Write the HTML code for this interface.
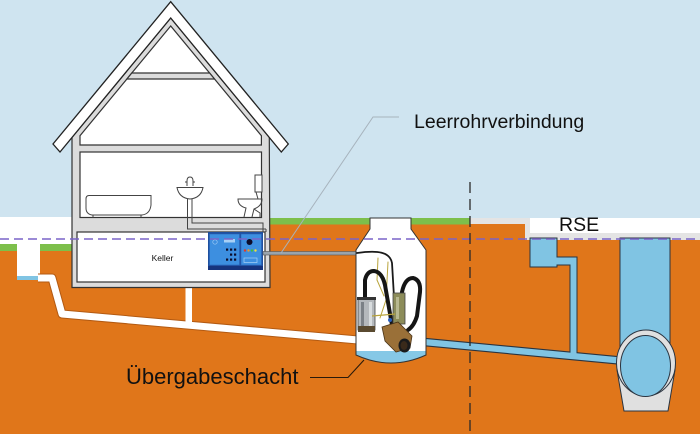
<!DOCTYPE html>
<html><head><meta charset="utf-8"><style>html,body{margin:0;padding:0;background:#cfe4f0}svg{display:block}</style></head>
<body>
<svg width="700" height="434" viewBox="0 0 700 434" xmlns="http://www.w3.org/2000/svg">
<rect width="700" height="434" fill="#cfe4f0"/>
<!-- ground -->
<rect x="0" y="217" width="72" height="27" fill="#ffffff"/>
<rect x="0" y="244" width="72" height="7" fill="#7dbf4b"/>
<rect x="0" y="251" width="72" height="183" fill="#e0761a"/>
<rect x="270" y="218" width="200" height="6.5" fill="#7dbf4b"/>
<rect x="270" y="224.5" width="200" height="210" fill="#e0761a"/>
<rect x="470" y="218" width="230" height="22" fill="#e4e4e4"/>
<rect x="530" y="218" width="170" height="15" fill="#ffffff"/>
<rect x="470" y="224" width="55" height="210" fill="#e0761a"/>
<rect x="525" y="240" width="175" height="194" fill="#e0761a"/>
<rect x="72" y="287" width="198" height="147" fill="#e0761a"/>

<!-- gully -->
<rect x="17" y="244" width="23" height="36" fill="#ffffff"/>
<rect x="17" y="276" width="23" height="4" fill="#80c4e3"/>

<!-- house drain pipes -->
<polyline points="38,278 52,278 62,314 358,340" stroke="#b35a12" stroke-width="9" fill="none" stroke-linejoin="round"/>
<polyline points="38,278 52,278 62,314 358,340" stroke="#ffffff" stroke-width="7" fill="none" stroke-linejoin="round"/>
<rect x="185.5" y="285" width="6.5" height="38" fill="#ffffff"/>

<!-- house -->
<path d="M72,137.3 L170.7,18 L269.3,137.3 L270,287.5 L72,287.5 Z" fill="#dcdcdc" stroke="#333" stroke-width="1.2"/>
<path d="M170.7,26 L80,135.7 L80,145 L261.4,145 L261.4,135.7 Z" fill="#ffffff" stroke="#333" stroke-width="1.2"/>
<path d="M131.8,73 L209.6,73 L214.5,79 L126.9,79 Z" fill="#dcdcdc" stroke="#333" stroke-width="1.2"/>
<rect x="80" y="152" width="181.5" height="65.5" fill="#ffffff" stroke="#333" stroke-width="1.2"/>
<rect x="77" y="232" width="188" height="50" fill="#ffffff" stroke="#333" stroke-width="1.2"/>
<path d="M170.7,1.7 L53,144 L60,152 L170.7,18 L281.3,152 L288.3,144 Z" fill="#ffffff" stroke="#222" stroke-width="1.3" stroke-linejoin="miter"/>

<!-- bathtub -->
<g fill="none" stroke="#444" stroke-width="1">
<path d="M89,195.5 L151,195.5 L151,205 Q150,214 142,215 L92,215 Q86,214 86,208 L86,199 Q86,195.5 89,195.5 Z" fill="#fff"/>
<path d="M93,215 L93,217.5 M141,215 L141,217.5"/>
<!-- sink -->
<path d="M177,187.5 L203,187.5 Q201,198 190,199 Q179,198 177,187.5 Z" fill="#fff"/>
<path d="M187,186 L187,181 Q187,177 190,177 Q193,177 193,181 L193,186 M185,182 L187,182 M193,182 L195,182"/>
<path d="M187.5,199 L187.5,229 L266,229 M192,199 L192,223 L263,223 L263,232 M266,229 L266,232"/>
<!-- toilet -->
<path d="M255,175 L262,175 L262,192 L255,192 Z" fill="#fff"/>
<path d="M256,192 L258,199 L238,199 Q238,206 246,208 L244,217 M238,199 L262,199 Q262,206 254,209 L252,217"/>
<path d="M254,209 L260,213 L260,217"/>
</g>
<text x="162.5" y="261" font-family="Liberation Sans, sans-serif" font-size="8.5" text-anchor="middle" fill="#111">Keller</text>

<!-- control box -->
<rect x="208" y="232" width="55" height="38" fill="#1e4f9e"/>
<rect x="209.5" y="234" width="30" height="31" fill="#3d8fe0" stroke="#2a63b8" stroke-width="0.6"/>
<rect x="241" y="234" width="20.5" height="31" fill="#3d8fe0" stroke="#2a63b8" stroke-width="0.6"/>
<rect x="208" y="266" width="55" height="4" fill="#16347e"/>
<rect x="224" y="239" width="11" height="3.5" fill="#a8d0f5"/>
<circle cx="215" cy="242" r="2.2" fill="none" stroke="#a8d0f5" stroke-width="0.6"/>
<g fill="#0c0c2a">
<rect x="226" y="248.5" width="2.2" height="2.2"/><rect x="230" y="248.5" width="2.2" height="2.2"/><rect x="234" y="248.5" width="2.2" height="2.2"/>
<rect x="230" y="253.5" width="2.2" height="2.2"/><rect x="234" y="253.5" width="2.2" height="2.2"/>
<rect x="226" y="258.5" width="2.2" height="2.2"/><rect x="230" y="258.5" width="2.2" height="2.2"/><rect x="234" y="258.5" width="2.2" height="2.2"/>
<circle cx="249.5" cy="242" r="3"/>
</g>
<circle cx="245" cy="250.5" r="1.2" fill="#e03a2a"/>
<circle cx="248.5" cy="250.5" r="1.2" fill="#f09a20"/>
<circle cx="252" cy="250.5" r="1.2" fill="#40c040"/>
<circle cx="255.5" cy="250.5" r="1.2" fill="#f0e040"/>
<rect x="244" y="258" width="13" height="4.5" fill="none" stroke="#a8d0f5" stroke-width="0.7"/>

<!-- cable -->
<rect x="263" y="251.5" width="95" height="3.5" fill="#9aa4ac" stroke="#555" stroke-width="0.6"/>

<!-- outflow pipe + inspection chamber -->
<line x1="424" y1="342" x2="620" y2="360.5" stroke="#2a3440" stroke-width="8.5"/>
<path d="M530,238 L557,238 L557,257 L577,257 L577,356 L570,355 L570,265 L557,265 L557,267 L530,267 Z" fill="#80c4e3" stroke="#2a3440" stroke-width="1"/>
<line x1="424" y1="342" x2="620" y2="360.5" stroke="#80c4e3" stroke-width="6.3"/>

<!-- main sewer -->
<rect x="620" y="238" width="50" height="110" fill="#80c4e3" stroke="#2a3440" stroke-width="1"/>
<path d="M617,370 L675,370 L668,411 L624,411 Z" fill="#e0e0e0" stroke="#2a3440" stroke-width="1"/>
<ellipse cx="646" cy="363" rx="29.5" ry="33" fill="#e0e0e0" stroke="#2a3440" stroke-width="1"/>
<ellipse cx="645.5" cy="366" rx="25" ry="30.5" fill="#80c4e3" stroke="#2a3440" stroke-width="1"/>

<!-- shaft -->
<defs>
<clipPath id="sh"><path d="M370,218 L411,218 L411,229 L426,250 L426,355 Q391,371 356,355 L356,250 L370,229 Z"/></clipPath>
</defs>
<path d="M370,218 L411,218 L411,229 L426,250 L426,355 Q391,371 356,355 L356,250 L370,229 Z" fill="#ffffff"/>
<rect x="350" y="351" width="80" height="20" fill="#86c8e6" clip-path="url(#sh)"/>
<path d="M370,218 L411,218 L411,229 L426,250 L426,355 Q391,371 356,355 L356,250 L370,229 Z" fill="none" stroke="#333" stroke-width="1"/>

<!-- pump -->
<g fill="none" stroke-linecap="round">
<path d="M357,253 C378,250 390,252 392,263 L394,297" stroke="#1a1a1a" stroke-width="1.8"/>
<path d="M378,258 L377,280 L384,296" stroke="#b9a43c" stroke-width="1"/>
<path d="M388,262 L386,300 L380,318" stroke="#b9a43c" stroke-width="1"/>
<path d="M365,302 L365,280 Q367,271 374,271 Q382,272 385,285 L392,325" stroke="#151515" stroke-width="4"/>
<path d="M397,324 L402,292 Q405,278 413,278 Q421,280 420,292 L417,316 Q414,326 408,330" stroke="#151515" stroke-width="4"/>
</g>
<rect x="358" y="298" width="17" height="32" fill="#b4b8bc" stroke="#444" stroke-width="0.8"/>
<rect x="361" y="302" width="3" height="24" fill="#7b8086"/>
<rect x="369" y="302" width="3" height="24" fill="#d8dcde"/>
<rect x="357" y="297" width="19" height="3" fill="#333"/>
<rect x="358" y="326" width="17" height="6" fill="#5a4a30"/>
<rect x="393" y="293" width="12" height="31" fill="#8c8c5a" stroke="#444" stroke-width="0.8"/>
<rect x="396" y="297" width="3" height="22" fill="#b8b890"/>
<line x1="372" y1="316" x2="395" y2="314" stroke="#b9a43c" stroke-width="1.2"/>
<path d="M382,327 L398,322 L412,336 L410,348 L396,352 L385,341 Z" fill="#9a7038" stroke="#4a3418" stroke-width="0.8"/>
<ellipse cx="404.5" cy="345.5" rx="6" ry="7" fill="#1a1a1a"/>
<ellipse cx="404" cy="345.5" rx="3.5" ry="4.5" fill="#3a2a1a"/>
<circle cx="390" cy="320" r="2" fill="#2a60c0"/>

<!-- purple dashed line -->
<line x1="0" y1="239" x2="700" y2="239" stroke="#7a64c8" stroke-width="1.5" stroke-dasharray="9 5"/>

<!-- vertical dashed boundary -->
<line x1="470" y1="182" x2="470" y2="434" stroke="#2a2a2a" stroke-width="1.3" stroke-dasharray="11 6"/>

<!-- leader lines -->
<polyline points="399,117 373,117 281,253" fill="none" stroke="#a7b3bd" stroke-width="1"/>
<polyline points="310,377.5 348,377.5 364,360" fill="none" stroke="#2a1a0a" stroke-width="1.1"/>

<!-- labels -->
<text x="414" y="128" font-family="Liberation Sans, sans-serif" font-size="19.5" fill="#111">Leerrohrverbindung</text>
<text x="559" y="231" font-family="Liberation Sans, sans-serif" font-size="19.5" fill="#111">RSE</text>
<text x="126" y="384" font-family="Liberation Sans, sans-serif" font-size="22" fill="#111">Übergabeschacht</text>
</svg>
</body></html>
